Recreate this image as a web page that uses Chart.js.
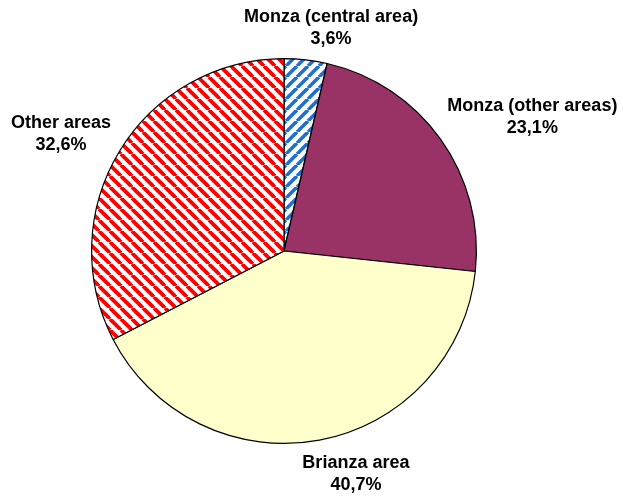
<!DOCTYPE html>
<html lang="en">
<head>
  <meta charset="UTF-8" />
  <title>Monza / Brianza</title>
  <script src="https://cdn.jsdelivr.net/npm/chart.js"></script>
  <style>
    body { margin: 0; padding: 0; background: #fff; }
    #wrap { width: 623px; height: 502px; }
  </style>
</head>
<body>
  <div id="wrap"><canvas id="grafico"></canvas></div>

  <script>
    const categorie = ['Monza (central area)', 'Monza (other areas)', 'Brianza area', 'Other areas'];
    const valori = [3.6, 23.1, 40.7, 32.6];

    // tratteggio diagonale: dir 1 = "\" , dir -1 = "/"
    function tratteggio(colore, dir, passo, spessore) {
      const c = document.createElement('canvas');
      c.width = passo; c.height = passo;
      const g = c.getContext('2d');
      g.fillStyle = '#fff';
      g.fillRect(0, 0, passo, passo);
      g.strokeStyle = colore;
      g.lineWidth = spessore;
      for (let k = -passo; k <= passo; k += passo) {
        g.beginPath();
        if (dir > 0) { g.moveTo(k, 0); g.lineTo(k + passo, passo); }
        else { g.moveTo(k, passo); g.lineTo(k + passo, 0); }
        g.stroke();
      }
      return g.createPattern(c, 'repeat');
    }

    const etichette = {
      id: 'etichette',
      afterDraw(chart, args, opts) {
        const ctx = chart.ctx;
        const meta = chart.getDatasetMeta(0);
        const riga = 22;
        ctx.save();
        ctx.font = 'bold 18px "Liberation Sans", Arial, sans-serif';
        ctx.fillStyle = '#000';
        ctx.textAlign = 'center';
        ctx.textBaseline = 'alphabetic';
        meta.data.forEach((arc, i) => {
          const p = arc.getProps(['x', 'y', 'startAngle', 'endAngle', 'outerRadius'], true);
          const a = (p.startAngle + p.endAngle) / 2;
          const r = p.outerRadius + 14;
          const testo1 = categorie[i];
          const testo2 = valori[i].toFixed(1).replace('.', ',') + '%';
          const w = Math.max(ctx.measureText(testo1).width, ctx.measureText(testo2).width);
          const sc = (opts.scostamenti && opts.scostamenti[i]) || [0, 0];
          const cx = p.x + Math.cos(a) * (r + w / 2) + sc[0];
          const cy = p.y + Math.sin(a) * (r + riga) + sc[1];
          ctx.fillText(testo1, cx, cy - riga / 2 + 6.5);
          ctx.fillText(testo2, cx, cy + riga / 2 + 6.5);
        });
        ctx.restore();
      }
    };

    const ctx = document.getElementById('grafico').getContext('2d');
    new Chart(ctx, {
      type: 'pie',
      data: {
        labels: categorie,
        datasets: [{
          data: valori,
          backgroundColor: [
            tratteggio('#1f6fd0', -1, 11, 3.6),
            '#993366',
            '#FFFFCC',
            tratteggio('#FF0000', 1, 11, 3.8)
          ],
          borderColor: '#000',
          borderWidth: 1.2
        }]
      },
      options: {
        responsive: true,
        maintainAspectRatio: false,
        animation: false,
        layout: { padding: { left: 91, right: 146, top: 58, bottom: 58 } },
        plugins: {
          legend: { display: false },
          tooltip: { enabled: false },
          etichette: { scostamenti: [[14, 2], [11, -3], [24, -2.5], [-4, 0]] }
        }
      },
      plugins: [etichette]
    });
  </script>
</body>
</html>
